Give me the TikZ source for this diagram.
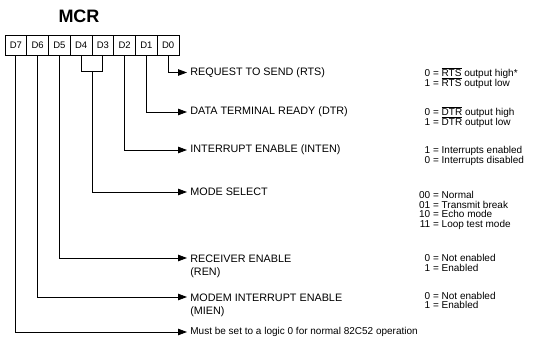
\documentclass[tikz,border=0pt]{standalone}
\usepackage{fontspec}
\setmainfont{Liberation Sans}
\usetikzlibrary{arrows.meta,calc}
\newcommand{\ovl}[1]{$\overline{\mbox{#1}}$}
\begin{document}
\begin{tikzpicture}[x=1pt,y=-1pt, line width=0.8pt,
 cell/.style={draw, minimum width=21.75pt, minimum height=20pt, inner sep=0pt, outer sep=0pt, font=\fontsize{9.5}{10}\selectfont},
 arr/.style={-{Triangle[length=9pt,width=6.5pt]}},
 lab/.style={inner sep=0pt, font=\fontsize{10.8}{13.3}\selectfont, align=left},
 val/.style={anchor=base, inner sep=0pt, font=\fontsize{10}{10}\selectfont}]
\useasboundingbox (0,0) rectangle (539,344);
\node[font=\bfseries\fontsize{18}{20}\selectfont, anchor=base, inner sep=0pt] (title) at (79,23) {MCR};
\foreach \n [count=\i from 0] in {7,6,5,4,3,2,1,0}
  \node[cell] (d\n) at (15.875+21.75*\i, 45.5) {D\n};
% arrow end points
\coordinate (rtsA) at (187,72.5);
\coordinate (dtrA) at (187,112);
\coordinate (intA) at (187,150);
\coordinate (modA) at (187,192);
\coordinate (renA) at (187,258);
\coordinate (mieA) at (187,297);
\coordinate (musA) at (187,332);
% labels
\node[lab, anchor=west] (rts) at (190,72.5) {REQUEST TO SEND (RTS)};
\node[lab, anchor=west] (dtr) at (190,112) {DATA TERMINAL READY (DTR)};
\node[lab, anchor=west] (int) at (190,150) {INTERRUPT ENABLE (INTEN)};
\node[lab, anchor=west] (mod) at (190,192) {MODE SELECT};
\node[lab, anchor=north west] (ren) at (190,254.1) {RECEIVER ENABLE\\(REN)};
\node[lab, anchor=north west] (mie) at (190,293.1) {MODEM INTERRUPT ENABLE\\(MIEN)};
\node[lab, anchor=west, font=\fontsize{10}{12}\selectfont] (mus) at (190,332) {Must be set to a logic 0 for normal 82C52 operation};
% connectors
\draw[arr] (d0.south) |- (rtsA);
\draw[arr] (d1.south) |- (dtrA);
\draw[arr] (d2.south) |- (intA);
\draw (d4.south) -- ++(0,16) -| (d3.south);
\coordinate (mid) at ($(d4.south)!0.5!(d3.south)+(0,16)$);
\draw[arr] (mid) |- (modA);
\draw[arr] (d5.south) |- (renA);
\draw[arr] (d6.south) |- (mieA);
\draw[arr] (d7.south) |- (musA);
% values
\node[val] (v1) at (436,76.6) {\llap{0\ }=\rlap{\ \ovl{RTS} output high*}};
\node[val] (v2) at (436,86.6) {\llap{1\ }=\rlap{\ \ovl{RTS} output low}};
\node[val] (v3) at (436,115.6) {\llap{0\ }=\rlap{\ \ovl{DTR} output high}};
\node[val] (v4) at (436,125.6) {\llap{1\ }=\rlap{\ \ovl{DTR} output low}};
\node[val] (v5) at (436,153.6) {\llap{1\ }=\rlap{\ Interrupts enabled}};
\node[val] (v6) at (436,163.6) {\llap{0\ }=\rlap{\ Interrupts disabled}};
\node[val] (v7) at (436,198.6) {\llap{00\ }=\rlap{\ Normal}};
\node[val] (v8) at (436,208.3) {\llap{01\ }=\rlap{\ Transmit break}};
\node[val] (v9) at (436,217.9) {\llap{10\ }=\rlap{\ Echo mode}};
\node[val] (v10) at (436,227.6) {\llap{11\ }=\rlap{\ Loop test mode}};
\node[val] (v11) at (436,261.6) {\llap{0\ }=\rlap{\ Not enabled}};
\node[val] (v12) at (436,271.1) {\llap{1\ }=\rlap{\ Enabled}};
\node[val] (v13) at (436,299.1) {\llap{0\ }=\rlap{\ Not enabled}};
\node[val] (v14) at (436,308.6) {\llap{1\ }=\rlap{\ Enabled}};
\end{tikzpicture}
\end{document}
